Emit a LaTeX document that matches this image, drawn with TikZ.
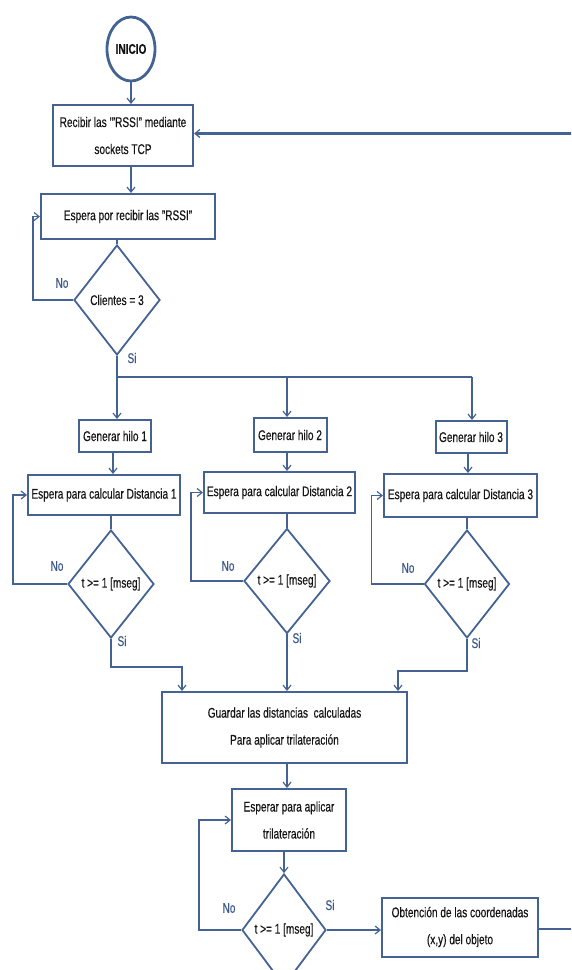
\documentclass[tikz,border=0pt]{standalone}
\usepackage{fontspec}
\setmainfont{Liberation Sans}[FakeStretch=0.72, FakeBold=0.4]
\usetikzlibrary{shapes.geometric,arrows.meta}
\definecolor{lc}{RGB}{68,98,146}
\definecolor{tc}{RGB}{20,20,20}
\definecolor{yn}{RGB}{60,88,135}
\tikzset{
  box/.style={draw=lc, line width=2pt, rectangle, text=tc, align=center,
    font=\fontsize{14}{27}\selectfont, inner sep=2pt},
  cond/.style={draw=lc, line width=1.8pt, diamond, text=tc, align=center,
    font=\fontsize{14}{16}\selectfont, inner sep=0pt, aspect=0.8},
  con/.style={draw=lc, line width=1.6pt},
  arr/.style={con, -{Straight Barb[length=5pt,width=8pt,line width=1.2pt]}},
  yesno/.style={text=yn, font=\fontsize{14}{16}\selectfont, inner sep=0pt},
}
\begin{document}
\begin{tikzpicture}[x=1pt, y=-1pt]
\useasboundingbox (0,0) rectangle (571,970);
\clip (0,0) rectangle (571,970);

% start
\node[draw=lc, line width=2.8pt, ellipse, minimum width=48pt, minimum height=64pt,
      inner sep=0pt, text=tc, font=\fontsize{14}{16}\selectfont\bfseries] (inicio) at (131,49) {INICIO};

% receive stage
\node[box, minimum width=140pt, minimum height=61pt] (recibir) at (123,135.5)
  {Recibir las '"RSSI" mediante\\sockets TCP};
\node[box, minimum width=174pt, minimum height=45pt] (espera0) at (128,216.5)
  {Espera por recibir las "RSSI"};
\node[cond, minimum width=86pt, minimum height=110pt] (d0) at (117,300) {Clientes = 3};

\draw[arr] (inicio.south -| 131,0) -- (131,0 |- recibir.north);
\draw[arr] (131,0 |- recibir.south) -- (131,0 |- espera0.north);
\draw[con] (d0.north |- espera0.south) -- (d0.north);
\draw[arr] (d0.west) -- ++(-40,0) |- (espera0.west);
\node[yesno] at (62,283) {No};
\node[yesno] at (132,358) {Si};

% thread fan-out
\coordinate (b1) at (117,377);
\coordinate (b2) at (287,377);
\coordinate (b3) at (472,377);
\draw[con] (d0.south) -- (b1) -- (b3);

\node[box, minimum width=72pt, minimum height=32pt] (g1) at (115,436) {Generar hilo 1};
\node[box, minimum width=73pt, minimum height=34pt] (g2) at (290,435) {Generar hilo 2};
\node[box, minimum width=71pt, minimum height=32pt] (g3) at (471,437) {Generar hilo 3};
\draw[arr] (b1) -- (b1 |- g1.north);
\draw[arr] (b2) -- (b2 |- g2.north);
\draw[arr] (b3) -- (b3 |- g3.north);

\node[box, minimum width=152pt, minimum height=40pt] (e1) at (104,495) {Espera para calcular Distancia 1};
\node[box, minimum width=151pt, minimum height=41pt] (e2) at (279.5,492.5) {Espera para calcular Distancia 2};
\node[box, minimum width=153pt, minimum height=43pt] (e3) at (460.5,495.5) {Espera para calcular Distancia 3};
\draw[arr] (113,0 |- g1.south) -- (113,0 |- e1.north);
\draw[arr] (287,0 |- g2.south) -- (287,0 |- e2.north);
\draw[arr] (468,0 |- g3.south) -- (468,0 |- e3.north);

\node[cond, minimum width=86pt, minimum height=108pt] (dd1) at (111,584) {t >= 1 [mseg]};
\node[cond, minimum width=86pt, minimum height=105pt] (dd2) at (287,581) {t >= 1 [mseg]};
\node[cond, minimum width=85pt, minimum height=108pt] (dd3) at (467,584) {t >= 1 [mseg]};
\draw[con] (dd1.north |- e1.south) -- (dd1.north);
\draw[con] (dd2.north |- e2.south) -- (dd2.north);
\draw[con] (dd3.north |- e3.south) -- (dd3.north);
\draw[arr] (dd1.west) -- ++(-54,0) |- (e1.west);
\draw[arr] (dd2.west) -- ++(-52,0) |- (e2.west);
\draw[arr] (dd3.west) -- ++(-52,0) |- (e3.west);
\node[yesno] at (57,566) {No};
\node[yesno] at (228,566) {No};
\node[yesno] at (408,568) {No};
\node[yesno] at (122,641) {Si};
\node[yesno] at (297,638) {Si};
\node[yesno] at (476,643) {Si};

% join
\node[box, minimum width=245pt, minimum height=71pt] (guardar) at (284.5,727.5)
  {Guardar las distancias\ \ calculadas\\Para aplicar trilateración};
\coordinate (c1) at (182,667);
\coordinate (c3) at (398,671);
\draw[arr] (dd1.south) |- (c1) -- (c1 |- guardar.north);
\draw[arr] (dd2.south) -- (dd2.south |- guardar.north);
\draw[arr] (dd3.south) |- (c3) -- (c3 |- guardar.north);

% trilateration
\node[box, minimum width=114pt, minimum height=62pt] (esperar) at (289,820)
  {Esperar para aplicar\\trilateración};
\draw[arr] (287,0 |- guardar.south) -- (287,0 |- esperar.north);
\node[cond, minimum width=84pt, minimum height=112pt] (dfin) at (284,930) {t >= 1 [mseg]};
\draw[arr] (dfin.north |- esperar.south) -- (dfin.north);
\draw[arr] (dfin.west) -- ++(-42,0) |- (esperar.west);
\node[yesno] at (229,908) {No};
\node[yesno] at (330,905) {Si};

\node[box, minimum width=156pt, minimum height=59pt] (obt) at (460,927)
  {Obtención de las coordenadas\\(x,y) del objeto};
\draw[arr] (dfin.east) -- (dfin.east -| obt.west);

% loop back to the receive stage
\coordinate (ret) at (590,929);
\draw[arr, line width=2.2pt] (obt.east |- ret) -- (ret) |- ([yshift=2pt]recibir.east);
\end{tikzpicture}
\end{document}
